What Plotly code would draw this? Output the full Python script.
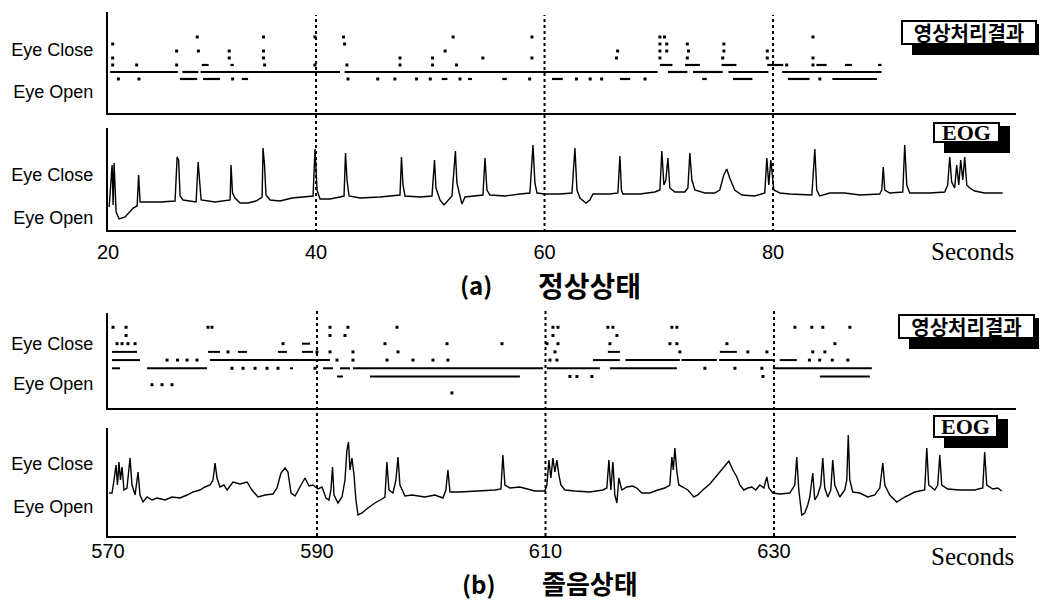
import plotly.graph_objects as go

# ---------------- data ----------------
# (a) normal state, image-processing result: runs (start s, end s, level) and isolated dots
A1_RUNS = [
    (21.97, 27.9, 0), (28.3, 29.7, 0), (29.9, 42.1, 0), (42.5, 69.9, 0), (70.8, 72.5, 0),
    (73.0, 75.6, 0), (76.1, 79.6, 0), (80.8, 89.5, 0),
    (30.0, 30.6, 1), (32.5, 32.8, 1), (70.1, 71.2, 1), (72.3, 73.6, 1), (75.5, 76.8, 1),
    (79.5, 80.9, 1), (83.8, 84.7, 1), (86.3, 86.9, 1), (89.2, 89.5, 1),
    (28.1, 29.6, -1), (30.1, 31.6, -1), (33.5, 34.05, -1), (51.0, 51.5, -1), (53.3, 53.65, -1),
    (56.3, 56.7, -1), (60.65, 61.6, -1), (66.6, 67.5, -1), (73.8, 74.2, -1), (76.5, 78.2, -1),
    (81.3, 83.2, -1), (85.2, 89.1, -1),
]
A1_DOT_T = [22.2, 24.3, 27.8, 35.5, 39.9, 42.7, 47.35, 50.2, 52.3, 81.2, 83.5,
            22.2, 32.4, 35.4, 47.35, 50.2, 54.6, 58.9, 66.3, 70.1, 72.5, 75.6, 79.5, 83.5,
            27.8, 29.7, 32.4, 35.4, 51.3, 66.4, 70.1, 70.7, 72.6, 75.7, 79.5,
            22.2, 42.5, 70.1, 70.7, 72.5, 75.7,
            29.6, 35.4, 39.9, 42.4, 52.0, 58.9, 70.1, 70.5, 83.5,
            22.7, 24.5, 32.7, 42.8, 45.4, 46.9, 48.8, 50.0, 52.6, 58.7, 62.8, 64.0, 65.0, 68.8, 84.1]
A1_DOT_L = [1] * 11 + [2] * 13 + [3] * 11 + [4] * 6 + [5] * 9 + [-1] * 15

# (a) EOG
A2_T = [21.89, 22.15, 22.24, 22.32, 22.5, 22.76, 23.29, 23.99, 24.34, 24.47, 24.6, 26.35, 27.66,
        27.84, 27.97, 28.1, 28.36, 28.98, 29.5, 29.68, 29.8, 29.94, 31.16, 32.04, 32.48, 32.56,
        32.69, 32.91, 33.35, 34.05, 34.75, 35.28, 35.36, 35.49, 35.62, 35.98, 36.85, 37.9, 39.04,
        39.74, 39.91, 40.09, 40.35, 41.22, 42.1, 42.45, 42.58, 42.71, 42.89, 43.85, 45.6, 46.91,
        47.35, 47.48, 47.61, 47.79, 49.1, 50.15, 50.37, 50.5, 50.85, 51.2, 51.55, 51.9, 52.2,
        52.33, 52.6, 52.77, 53.04, 54.61, 54.79, 54.96, 55.22, 56.54, 57.85, 58.72, 58.99, 59.16,
        59.34, 60.04, 61.35, 62.4, 62.66, 62.84, 63.1, 63.63, 63.97, 64.24, 65.72, 66.42, 66.6,
        66.73, 66.86, 68.35, 69.66, 70.1, 70.27, 70.45, 70.62, 70.8, 70.97, 71.41, 72.28, 72.55,
        72.72, 72.9, 73.16, 74.03, 74.9, 75.34, 75.69, 75.95, 76.21, 76.65, 77.27, 78.4, 79.28,
        79.46, 79.63, 79.81, 80.07, 80.6, 81.47, 83.4, 83.66, 83.83, 84.09, 84.97, 86.28, 87.59,
        89.34, 89.52, 89.65, 89.78, 90.22, 91.36, 91.53, 91.71, 91.97, 93.72, 95.03, 95.29, 95.47,
        95.64, 95.9, 96.08, 96.26, 96.43, 96.61, 96.78, 96.96, 97.22, 97.66, 98.53, 100.1]
A2_V = [25, 67, 27, 69, 20, 13, 15, 24, 26, 57, 30, 30, 31,
        75, 72, 36, 32, 31, 30, 70, 48, 32, 30, 31, 32, 67,
        39, 34, 29, 29, 31, 35, 84, 67, 37, 32, 31, 34, 35,
        36, 83, 42, 33, 33, 35, 36, 79, 52, 36, 34, 35, 36,
        37, 75, 47, 36, 35, 36, 72, 44, 32, 27, 32, 36, 81,
        49, 36, 28, 35, 37, 74, 42, 37, 36, 38, 39, 87, 49,
        39, 38, 38, 39, 84, 42, 34, 29, 32, 38, 38, 39, 76,
        42, 38, 38, 40, 42, 81, 47, 52, 74, 44, 40, 40, 44,
        79, 52, 42, 39, 39, 42, 57, 63, 54, 42, 37, 36, 39,
        74, 47, 72, 42, 39, 38, 37, 83, 42, 36, 39, 39, 37,
        38, 42, 65, 42, 39, 40, 87, 47, 39, 39, 40, 47, 75,
        50, 44, 67, 47, 72, 52, 75, 47, 44, 41, 39, 39]

# (b) drowsy state, image-processing result
B1_RUNS = [
    (572.06, 572.76, 0), (575.13, 580.38, 0), (587.64, 587.9, 0), (590.53, 591.4, 0),
    (592.01, 592.89, 0), (593.15, 609.78, 0), (610.13, 614.76, 0), (615.64, 621.5, 0),
    (629.9, 638.56, 0),
    (572.06, 574.51, 1), (580.64, 591.14, 1), (614.15, 616.5, 1), (617.0, 621.76, 1),
    (621.9, 625.0, 1), (625.2, 629.9, 1), (630.5, 632.0, 1),
    (572.06, 574.25, 2), (580.46, 581.51, 2), (583.09, 583.88, 2), (586.59, 587.38, 2),
    (588.69, 589.65, 2), (615.46, 616.51, 2), (625.26, 626.75, 2),
    (588.69, 589.39, 3),
    (591.75, 592.28, -1), (594.64, 607.76, -1), (634.01, 638.39, -1),
]
B1_DOT_T = [582.56, 583.53, 584.58, 585.63, 586.59, 589.83, 623.95, 626.58, 628.94,
            576.88, 577.8, 578.63, 579.5, 591.75, 593.15, 596.13, 598.4, 600.15, 601.46, 610.39,
            611.0, 633.1, 634.0, 635.1, 636.46,
            582.21, 590.0, 591.14, 593.15, 597.09, 610.83, 621.76, 627.71, 629.38, 633.39, 634.45,
            572.5, 572.94, 573.46, 574.08, 587.03, 595.95, 601.38, 606.19, 610.13, 611.09, 615.64,
            620.89, 621.5, 625.88, 635.33,
            573.29, 591.14, 592.45, 610.65, 616.25,
            572.15, 573.29, 580.46, 580.81, 591.14, 592.71, 597.0, 610.65, 611.09, 615.46, 615.9,
            621.06, 621.5, 631.83, 633.31, 634.27, 636.64,
            612.14, 612.75, 614.06, 629.03,
            575.56, 576.44, 577.31,
            601.81]
B1_DOT_L = [0] * 9 + [1] * 16 + [2] * 11 + [3] * 15 + [4] * 5 + [5] * 17 + [-1] * 4 + [-2] * 3 + [-3]

# (b) EOG
B2_T = [571.8, 572.06, 572.24, 572.41, 572.54, 572.67, 572.8, 572.94, 573.11, 573.37, 573.64,
        573.81, 574.08, 574.34, 574.51, 574.78, 575.13, 575.56, 576.0, 576.7, 577.31, 578.01,
        578.63, 579.15, 579.76, 580.2, 580.64, 580.9, 581.08, 581.25, 581.51, 581.86, 582.13,
        582.39, 582.65, 583.26, 583.88, 584.31, 584.84, 585.45, 586.15, 586.5, 586.85, 587.2,
        587.46, 587.73, 588.08, 588.51, 588.95, 589.3, 589.65, 590.09, 590.44, 590.79, 591.05,
        591.22, 591.36, 591.49, 591.84, 592.19, 592.45, 592.62, 592.76, 592.89, 593.06, 593.24,
        593.41, 593.59, 593.94, 594.46, 595.07, 595.69, 595.95, 596.12, 596.3, 596.65, 596.91,
        597.09, 597.26, 597.7, 598.31, 599.45, 600.32, 601.02, 601.28, 601.46, 601.64, 602.51,
        603.82, 604.7, 605.57, 606.1, 606.27, 606.45, 606.89, 607.76, 609.07, 609.95, 610.12,
        610.3, 610.47, 610.65, 610.82, 611.0, 611.17, 611.35, 611.7, 612.57, 613.88, 615.02,
        615.37, 615.55, 615.72, 615.9, 616.07, 616.25, 616.42, 616.68, 617.12, 617.64, 617.99,
        618.43, 619.13, 619.83, 620.45, 620.88, 621.06, 621.19, 621.32, 621.5, 621.67, 622.02,
        622.46, 622.98, 623.33, 623.77, 624.38, 624.82, 625.26, 625.7, 626.05, 626.4, 626.75,
        627.01, 627.36, 627.71, 628.06, 628.41, 628.76, 629.11, 629.37, 629.55, 629.9, 630.51,
        631.38, 631.82, 631.99, 632.17, 632.43, 632.69, 632.95, 633.13, 633.39, 633.57, 633.83,
        634.09, 634.27, 634.44, 634.71, 634.97, 635.14, 635.32, 635.76, 636.19, 636.37, 636.5,
        636.63, 636.89, 637.51, 638.21, 638.82, 639.26, 639.52, 639.7, 640.13, 640.74, 641.44,
        642.32, 643.19, 643.37, 643.54, 644.07, 644.33, 644.51, 644.68, 645.2, 646.26, 647.57,
        648.27, 648.44, 648.62, 649.15, 649.58, 649.93]
B2_V = [42, 42, 55, 70, 50, 73, 55, 68, 45, 47, 77,
        50, 40, 63, 40, 33, 38, 35, 37, 35, 38, 37,
        40, 43, 45, 48, 50, 55, 72, 57, 48, 50, 45,
        49, 53, 51, 53, 45, 38, 40, 41, 47, 62, 67,
        63, 42, 39, 48, 57, 49, 50, 46, 48, 37, 35,
        45, 68, 40, 32, 38, 55, 85, 93, 65, 77, 60,
        35, 20, 22, 27, 32, 36, 38, 73, 45, 42, 55,
        78, 50, 39, 40, 38, 40, 37, 45, 65, 43, 43,
        44, 44, 45, 46, 80, 50, 47, 48, 44, 44, 50,
        75, 57, 77, 63, 75, 60, 50, 45, 44, 43, 45,
        47, 75, 45, 73, 40, 32, 57, 45, 48, 49, 47,
        42, 42, 45, 47, 50, 78, 65, 87, 63, 50, 48,
        45, 38, 40, 45, 51, 57, 63, 70, 74, 65, 58,
        50, 45, 47, 48, 45, 50, 47, 58, 47, 42, 41,
        42, 50, 78, 45, 20, 22, 30, 38, 62, 35, 40,
        50, 77, 47, 38, 45, 75, 50, 38, 45, 55, 100,
        55, 43, 42, 38, 40, 47, 72, 50, 40, 33, 38,
        43, 45, 87, 50, 45, 50, 80, 50, 46, 45, 45,
        47, 83, 50, 46, 47, 44]

A_XTICKS = [40, 60, 80]
B_XTICKS = [590, 610, 630]
A_XRANGE = [21.79, 101.27]
B_XRANGE = [571.71, 651.18]

# ---------------- helpers ----------------
# page body has an 8px default margin; the figure is sized to fit inside it
OFF = 8
W, H = 1031, 594


def px_x(p):
    return (p - OFF) / W


def px_y(p):
    return 1 - (p - OFF) / H


def run_xy(runs):
    xs, ys = [], []
    for s, e, lv in runs:
        xs += [s, e, None]
        ys += [lv, lv, None]
    return xs, ys


fig = go.Figure()

ax, ay = run_xy(A1_RUNS)
fig.add_trace(go.Scatter(x=ax, y=ay, mode="lines", line=dict(color="black", width=2.2),
                         xaxis="x", yaxis="y", hoverinfo="skip"))
fig.add_trace(go.Scatter(x=A1_DOT_T, y=A1_DOT_L, mode="markers",
                         marker=dict(color="black", size=3, symbol="square"),
                         xaxis="x", yaxis="y"))
fig.add_trace(go.Scatter(x=A2_T, y=A2_V, mode="lines", line=dict(color="black", width=1.4),
                         xaxis="x2", yaxis="y2"))
bx, by = run_xy(B1_RUNS)
fig.add_trace(go.Scatter(x=bx, y=by, mode="lines", line=dict(color="black", width=2.0),
                         xaxis="x3", yaxis="y3", hoverinfo="skip"))
fig.add_trace(go.Scatter(x=B1_DOT_T, y=B1_DOT_L, mode="markers",
                         marker=dict(color="black", size=3, symbol="square"),
                         xaxis="x3", yaxis="y3"))
fig.add_trace(go.Scatter(x=B2_T, y=B2_V, mode="lines", line=dict(color="black", width=1.4),
                         xaxis="x4", yaxis="y4"))

XDOM = [px_x(108), px_x(1016)]
tickfont_x = dict(family="Liberation Sans, Arial", size=20, color="black")
tickfont_y = dict(family="Liberation Sans, Arial", size=18, color="black")


def xax(rng, ticks=None, labels=None, gap=0):
    d = dict(domain=XDOM, range=rng, showgrid=False, zeroline=False, showline=True,
             linecolor="black", linewidth=2, fixedrange=True, automargin=False)
    if ticks is None:
        d.update(showticklabels=False, ticks="")
    else:
        d.update(tickvals=ticks, ticktext=labels, tickfont=tickfont_x)
        if gap > 0:
            d.update(ticks="outside", ticklen=gap, tickcolor="rgba(0,0,0,0)")
        else:
            d.update(ticks="", ticklabelstandoff=gap)
    return d


def yax(dom, rng, close_v, open_v, anchor):
    return dict(domain=dom, range=rng, showgrid=False, zeroline=False, showline=True,
                linecolor="black", linewidth=2, tickvals=[close_v, open_v],
                ticktext=["Eye Close", "Eye Open"], ticks="outside", ticklen=9,
                tickcolor="rgba(0,0,0,0)", tickfont=tickfont_y, anchor=anchor,
                fixedrange=True, automargin=False)


fig.update_layout(
    width=W, height=H, margin=dict(l=0, r=0, t=0, b=0),
    paper_bgcolor="white", plot_bgcolor="white", showlegend=False,
    xaxis=dict(xax(A_XRANGE), anchor="y"),
    yaxis=yax([px_y(113), px_y(12)], [-5.86, 8.57], 3.14, -2.81, "x"),
    xaxis2=dict(xax(A_XRANGE, [A_XRANGE[0]] + A_XTICKS, ["20", "40", "60", "80"], gap=3), anchor="y2"),
    yaxis2=yax([px_y(230), px_y(128)], [2, 104], 57, 14, "x2"),
    xaxis3=dict(xax(B_XRANGE), anchor="y3"),
    yaxis3=yax([px_y(408), px_y(313)], [-4.84, 6.74], 3.05, -1.83, "x3"),
    xaxis4=dict(xax(B_XRANGE, [B_XRANGE[0]] + B_XTICKS, ["570", "590", "610", "630"], gap=-4), anchor="y4"),
    yaxis4=yax([px_y(536), px_y(428)], [-1, 107], 71.7, 28.3, "x4"),
)

shapes = []
for t in A_XTICKS:
    shapes.append(dict(type="line", xref="x2", yref="paper", x0=t, x1=t,
                       y0=px_y(232), y1=px_y(15), line=dict(color="black", width=2, dash="dot")))
for t in B_XTICKS:
    shapes.append(dict(type="line", xref="x4", yref="paper", x0=t, x1=t,
                       y0=px_y(536), y1=px_y(310), line=dict(color="black", width=2, dash="dot")))

# label boxes: shadow rectangles + bordered annotation
boxes = [
    (901, 20, 1037, 45, "<b>영상처리결과</b>", "Noto Sans CJK KR", 20),
    (933, 122, 1000, 143, "<b>EOG</b>", "Liberation Serif, Times New Roman", 22),
    (898, 314, 1035, 339, "<b>영상처리결과</b>", "Noto Sans CJK KR", 20),
    (933, 415, 998, 438, "<b>EOG</b>", "Liberation Serif, Times New Roman", 22),
]
annotations = []
for l, t, r, b, txt, fam, sz in boxes:
    shapes.append(dict(type="rect", xref="paper", yref="paper", x0=px_x(l + 11),
                       x1=px_x(min(r + 10, OFF + W)),
                       y0=px_y(b + 10), y1=px_y(t + 4), fillcolor="black", line=dict(width=0),
                       layer="above"))
    annotations.append(dict(xref="paper", yref="paper", x=px_x(l), y=px_y(t), xanchor="left",
                            yanchor="top", text=txt, showarrow=False, bgcolor="white",
                            bordercolor="black", borderwidth=2, borderpad=0,
                            width=r - l - 4, height=b - t - 4,
                            font=dict(family=fam, size=sz, color="black")))

serif = dict(family="Liberation Serif, Times New Roman", size=25, color="black")
kfont_small = dict(family="Noto Sans CJK KR", size=24, color="black")
kfont_big = dict(family="Noto Sans CJK KR", size=28, color="black")
kfont_big_b = dict(family="Noto Sans CJK KR", size=26, color="black")
annotations += [
    dict(xref="paper", yref="paper", x=px_x(972), y=px_y(251), text="Seconds", showarrow=False,
         font=serif, xanchor="center", yanchor="middle"),
    dict(xref="paper", yref="paper", x=px_x(972), y=px_y(556), text="Seconds", showarrow=False,
         font=serif, xanchor="center", yanchor="middle"),
    dict(xref="paper", yref="paper", x=px_x(476), y=px_y(285), text="<b>(a)</b>", showarrow=False,
         font=kfont_small, xanchor="center", yanchor="middle", borderpad=0),
    dict(xref="paper", yref="paper", x=px_x(589), y=px_y(285), text="<b>정상상태</b>", showarrow=False,
         font=kfont_big, xanchor="center", yanchor="middle", borderpad=0),
    dict(xref="paper", yref="paper", x=px_x(479), y=px_y(602), text="<b>(b)</b>", showarrow=False,
         font=kfont_small, xanchor="center", yanchor="bottom", borderpad=0),
    dict(xref="paper", yref="paper", x=px_x(590), y=px_y(602), text="<b>졸음상태</b>", showarrow=False,
         font=kfont_big_b, xanchor="center", yanchor="bottom", borderpad=0),
]

fig.update_layout(shapes=shapes, annotations=annotations)
fig.write_html("out.html")
